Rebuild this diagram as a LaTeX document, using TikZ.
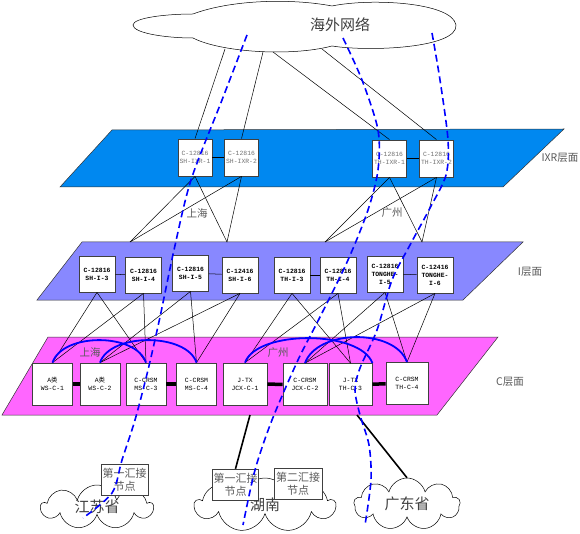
\documentclass[tikz,border=0pt]{standalone}
\usepackage{fontspec}
\newfontfamily\cjk{Noto Sans CJK SC}
\newfontfamily\mono{Liberation Mono}
\usetikzlibrary{shapes.symbols,positioning}
\definecolor{ixrblue}{RGB}{0,136,240}
\definecolor{ilayer}{RGB}{136,136,255}
\definecolor{clayer}{RGB}{255,102,255}
\definecolor{route}{RGB}{0,0,255}

\begin{document}
\begin{tikzpicture}[x=1pt,y=-1pt, line width=0.5pt,
  dev/.style={draw=black!75,fill=white,line width=0.8pt,minimum width=34pt,minimum height=37pt,inner sep=0pt,align=center,font=\mono\fontsize{6.4}{8}\selectfont},
  ixr/.style={dev,text=black!55},
  core/.style={dev,minimum width=36pt,minimum height=36pt,font=\mono\bfseries\fontsize{6.4}{8}\selectfont},
  edge/.style={dev,minimum width=40pt,minimum height=42pt},
  hub/.style={draw=black!75,fill=white,minimum width=47pt,minimum height=31pt,inner sep=1pt,align=center,text=black!65,font=\cjk\fontsize{11}{13}\selectfont},
  area/.style={cloud,cloud puffs=9,cloud ignores aspect,draw,fill=white,inner sep=0pt,text=black!75,font=\cjk\fontsize{15}{17}\selectfont},
  tag/.style={text=black!65,font=\cjk\fontsize{10.5}{12}\selectfont},
  trunk/.style={line width=3.5pt},
  ring/.style={route,line width=1.8pt},
  trace/.style={route,line width=1.6pt,dash pattern=on 7pt off 4pt}]
\useasboundingbox (0,0) rectangle (580,534);
% layers
\draw[black!80,fill=ixrblue] (112,130) -- (564,129) -- (503,187) -- (60,187) -- cycle;
\draw[black!80,fill=ilayer] (82,242) -- (523,242) -- (463,300) -- (37,300) -- cycle;
\draw[black!80,fill=clayer] (48,337) -- (498,337) -- (437,415) -- (2,415) -- cycle;
\node[tag,anchor=west] (lixr) at (538,158) {IXR层面};
\node[tag] (li) at (530,272) {I层面};
\node[tag] (lc) at (510,382) {C层面};
% overseas
\draw[fill=white] (133,25) .. controls (133,18) and (165,14) .. (193,14) .. controls (230,0) and (290,-2) .. (332,6)
  .. controls (370,-2) and (452,2) .. (456,25) .. controls (458,48) and (370,52) .. (332,46)
  .. controls (290,57) and (220,52) .. (193,38) .. controls (165,38) and (133,33) .. (133,25) -- cycle;
\node[text=black!75,font=\cjk\fontsize{15}{17}\selectfont] (net) at (340,25) {海外网络};
\coordinate (o1) at (225,49); \coordinate (o2) at (263,52); \coordinate (o3) at (273,52); \coordinate (o4) at (322,49);
% IXR
\node[ixr] (sh1) at (195,157.5) {C-12816\\SH-IXR-1};
\node[ixr] (sh2) at (241.5,157.5) {C-12816\\SH-IXR-2};
\node[ixr] (th1) at (389.5,158.5) {C-12816\\TH-IXR-1};
\node[ixr] (th2) at (436.5,158.5) {C-12816\\TH-IXR-2};
\draw (sh1) -- (sh2); \draw (th1) -- (th2);
\draw (o1) -- (sh1.north); \draw (o2) -- (sh2.north); \draw (o3) -- (th1.north); \draw (o4) -- (th2.north);
\coordinate (a1) at (130,242); \coordinate (a2) at (227,242); \coordinate (a3) at (325,242); \coordinate (a4) at (422,242);
\draw (sh1.south) -- (a1); \draw (sh1.south) -- (a2); \draw (sh2.south) -- (a1); \draw (sh2.south) -- (a2);
\draw (th1.south) -- (a3); \draw (th1.south) -- (a4); \draw (th2.south) -- (a3); \draw (th2.south) -- (a4);
\node[tag] (shlab) at (197,213) {上海};
\node[tag] (gzlab) at (392,213) {广州};
% I
\node[core] (i3) at (97,274) {C-12816\\SH-I-3};
\node[core] (i4) at (143.5,275) {C-12816\\SH-I-4};
\node[core] (i5) at (190.5,273) {C-12816\\SH-I-5};
\node[core] (i6) at (240,275) {C-12416\\SH-I-6};
\node[core] (t3) at (292,275) {C-12816\\TH-I-3};
\node[core] (t4) at (338,275) {C-12816\\TH-I-4};
\node[core] (t5) at (385,274) {C-12816\\TONGHE-\\I-5};
\node[core] (t6) at (435,275) {C-12416\\TONGHE-\\I-6};
\draw (i3) -- (i4); \draw (i5) -- (i6); \draw (t3) -- (t4); \draw (t5) -- (t6);
% C
\node[edge] (c1) at (52.5,384) {A{\cjk 类}\\WS-C-1};
\node[edge] (c2) at (100,384) {A{\cjk 类}\\WS-C-2};
\node[edge] (c3) at (146,384) {C-CRSM\\MS-C-3};
\node[edge] (c4) at (196.5,384) {C-CRSM\\MS-C-4};
\node[edge,minimum width=44pt] (c5) at (245,384) {J-TX\\JCX-C-1};
\node[edge,minimum width=44pt] (c6) at (305,384.5) {C-CRSM\\JCX-C-2};
\node[edge,minimum width=43pt] (c7) at (350.5,384.5) {J-TX\\TH-C-3};
\node[edge,minimum width=42pt] (c8) at (407,383.5) {C-CRSM\\TH-C-4};
\draw (i3.south) -- (c1.north); \draw (i3.south) -- (c3.north); \draw (i4.south) -- (c1.north); \draw (i4.south) -- (c3.north);
\draw (i5.south) -- (c2.north); \draw (i5.south) -- (c4.north); \draw (i6.south) -- (c2.north); \draw (i6.south) -- (c4.north);
\draw (t3.south) -- (c5.north); \draw (t3.south) -- (c7.north); \draw (t4.south) -- (c5.north); \draw (t4.south) -- (c7.north);
\draw (t5.south) -- (c6.north); \draw (t5.south) -- (c8.north); \draw (t6.south) -- (c6.north); \draw (t6.south) -- (c8.north);
\draw[trunk] (c1) -- (c2); \draw[trunk] (c3) -- (c4); \draw[trunk] (c5) -- (c6); \draw[trunk] (c7) -- (c8);
\draw[ring] (c1.north) .. controls +(10,-30) and +(-10,-30) .. (c3.north);
\draw[ring] (c2.north) .. controls +(10,-30) and +(-10,-30) .. (c4.north);
\draw[ring] (c5.north) .. controls +(12,-33) and +(-12,-33) .. (c7.north east);
\draw[ring] (c6.north) .. controls +(12,-34) and +(-12,-34) .. (c8.north);
\node[tag] (shc) at (90,352) {上海};
\node[tag] (gzc) at (278,353) {广州};
% provinces
\node[area,minimum width=112pt,minimum height=44pt] (js) at (97,507) {江苏省};
\node[area,minimum width=140pt,minimum height=54pt] (hn) at (265,505) {湖南};
\node[area,minimum width=106pt,minimum height=52pt] (gd) at (407,504) {广东省};
\node[hub] (jsb) at (124.5,479.5) {第一汇接\\节点};
\node[hub,minimum width=45pt] (hn1) at (235.5,484.5) {第一汇接\\节点};
\node[hub,minimum width=48pt] (hn2) at (298,484) {第二汇接\\节点};
\coordinate (b1) at (250,415); \coordinate (b2) at (357,415);
\draw[line width=1.6pt] (b1) -- (hn1.north); \draw[line width=1.6pt] (b2) -- (gd.north);
% routes
\draw[trace] plot[smooth] coordinates {(247,35) (222,100) (191,180) (174,250) (160,317) (148,370) (135,420) (122,460) (112,493) (83,518)};
\draw[trace] plot[smooth] coordinates {(343,38) (362,80) (378,130) (378,170) (368,210) (348,260) (320,317) (298,360) (272,420) (255,470) (243,525)};
\draw[trace] plot[smooth] coordinates {(432,33) (440,80) (448,140) (446,175) (430,208) (410,245) (392,280) (377,330) (360,368) (355,390) (360,415) (369,445) (371,480) (365,525)};
\end{tikzpicture}
\end{document}
